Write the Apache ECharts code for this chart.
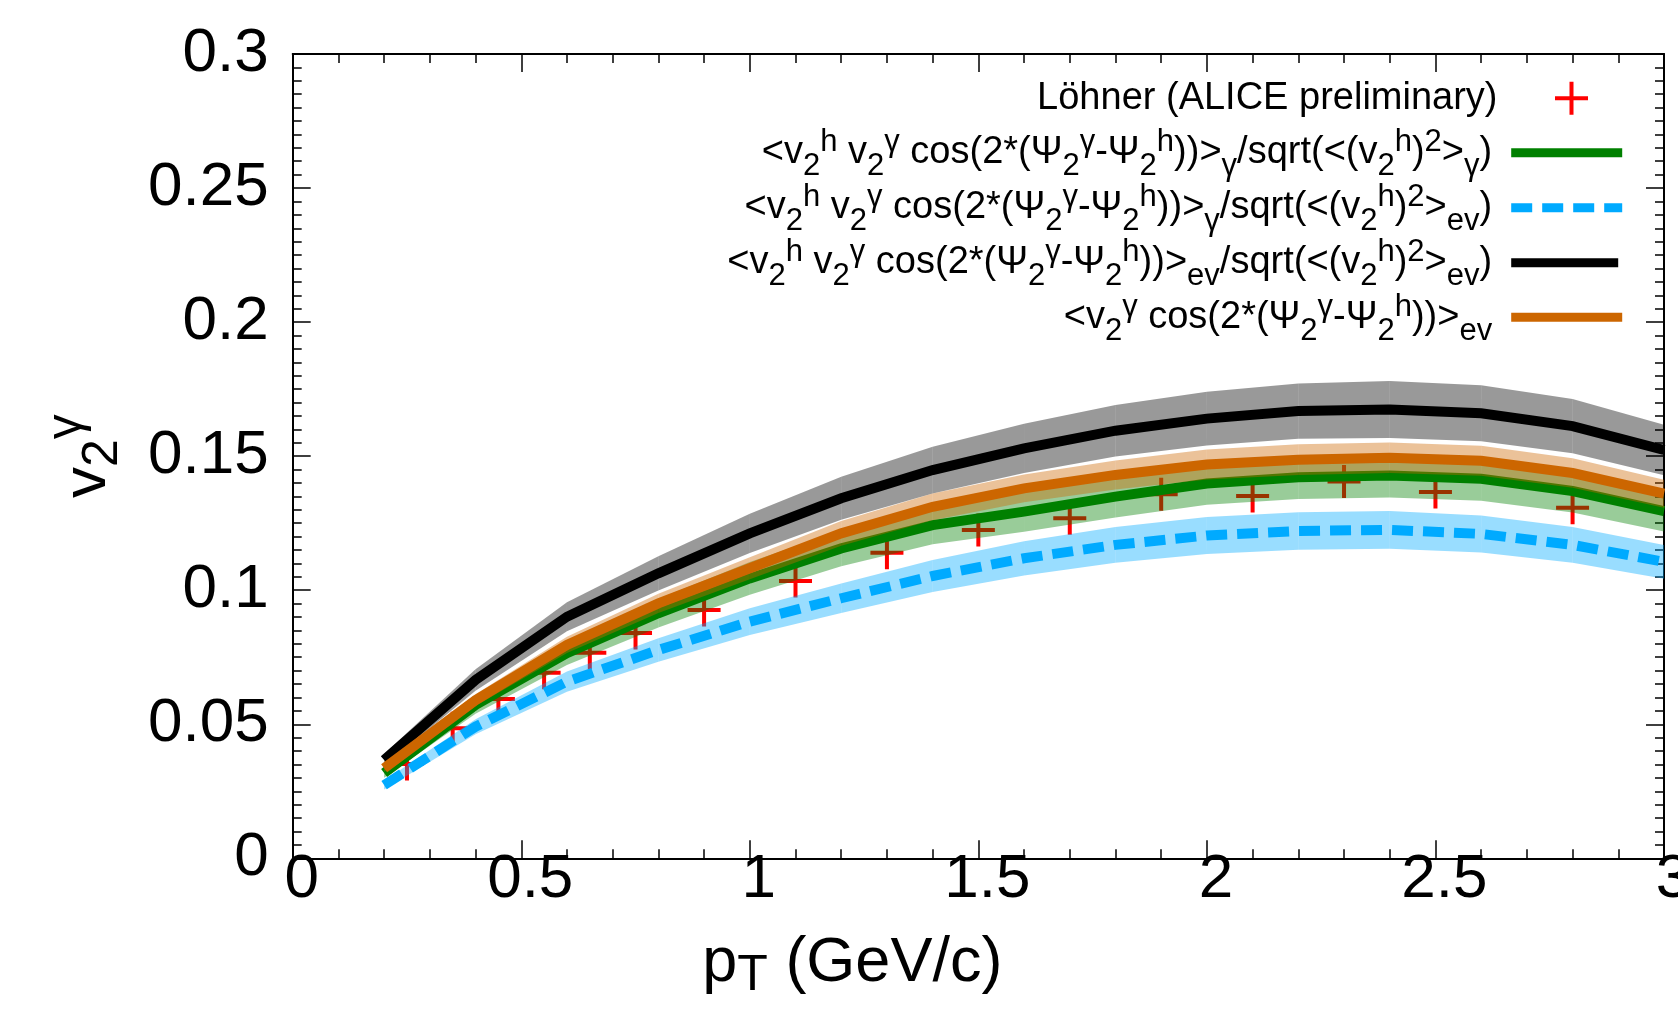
<!DOCTYPE html>
<html>
<head>
<meta charset="utf-8">
<title>v2 gamma vs pT</title>
<script src="https://cdn.jsdelivr.net/npm/echarts@6/dist/echarts.min.js"></script>
<style>
  html, body { margin: 0; padding: 0; background: #ffffff; }
  #chart { width: 1678px; height: 1015px; }
</style>
</head>
<body>
<div id="chart"></div>
<script>
const FONT = '"Liberation Sans", Arial, Helvetica, sans-serif';

// pT grid of the model calculations (GeV/c)
const ptModel = [0.2, 0.4, 0.6, 0.8, 1.0, 1.2, 1.4, 1.6, 1.8, 2.0, 2.2, 2.4, 2.6, 2.8, 3.0];

// <v2h v2g cos(2(Psi2g-Psi2h))>_g / sqrt(<(v2h)^2>_g)
const v2Green   = [0.0318, 0.0572, 0.0765, 0.0914, 0.1044, 0.1156, 0.1243, 0.1293, 0.1349, 0.1398, 0.1421, 0.1428, 0.1416, 0.1370, 0.1295];
const errGreen  = [0.0018, 0.0033, 0.0044, 0.0053, 0.0061, 0.0067, 0.0072, 0.0075, 0.0078, 0.0079, 0.0081, 0.0082, 0.0082, 0.0080, 0.0076];
// <v2h v2g cos(2(Psi2g-Psi2h))>_g / sqrt(<(v2h)^2>_ev)
const v2Blue    = [0.0273, 0.0491, 0.0659, 0.0777, 0.0883, 0.0970, 0.1053, 0.1119, 0.1169, 0.1204, 0.1221, 0.1225, 0.1210, 0.1169, 0.1106];
const errBlue   = [0.0016, 0.0028, 0.0038, 0.0044, 0.0050, 0.0055, 0.0060, 0.0064, 0.0067, 0.0069, 0.0070, 0.0070, 0.0069, 0.0067, 0.0063];
// <v2h v2g cos(2(Psi2g-Psi2h))>_ev / sqrt(<(v2h)^2>_ev)
const v2Black   = [0.0367, 0.0665, 0.0901, 0.1063, 0.1212, 0.1343, 0.1448, 0.1529, 0.1595, 0.1640, 0.1668, 0.1674, 0.1660, 0.1612, 0.1523];
const errBlack  = [0.0022, 0.0040, 0.0054, 0.0064, 0.0073, 0.0080, 0.0087, 0.0092, 0.0096, 0.0100, 0.0103, 0.0106, 0.0104, 0.0101, 0.0094];
// <v2g cos(2(Psi2g-Psi2h))>_ev
const v2Orange  = [0.0336, 0.0590, 0.0796, 0.0951, 0.1082, 0.1212, 0.1311, 0.1380, 0.1430, 0.1469, 0.1487, 0.1494, 0.1483, 0.1437, 0.1360];
const errOrange = [0.0013, 0.0022, 0.0030, 0.0036, 0.0041, 0.0046, 0.0050, 0.0052, 0.0054, 0.0056, 0.0057, 0.0057, 0.0056, 0.0055, 0.0052];

// ALICE preliminary direct-photon v2
const ptAlice = [0.25, 0.35, 0.45, 0.55, 0.65, 0.75, 0.9, 1.1, 1.3, 1.5, 1.7, 1.9, 2.1, 2.3, 2.5, 2.8];
const v2Alice = [0.0352, 0.0485, 0.0594, 0.0692, 0.0767, 0.0840, 0.0926, 0.1034, 0.1140, 0.1225, 0.1268, 0.1358, 0.1351, 0.1405, 0.1366, 0.1308];

// axis ticks
const xTicks = { min: 0, max: 3, step: 0.5, minorSplit: 5 };
const yTicks = { min: 0, max: 0.3, step: 0.05, minorSplit: 10 };

// series names and their formatted legend texts
const NAME_DATA   = 'Löhner (ALICE preliminary)';
const NAME_GREEN  = '<v2h v2γ cos(2*(Ψ2γ-Ψ2h))>γ/sqrt(<(v2h)2>γ)';
const NAME_BLUE   = '<v2h v2γ cos(2*(Ψ2γ-Ψ2h))>γ/sqrt(<(v2h)2>ev)';
const NAME_BLACK  = '<v2h v2γ cos(2*(Ψ2γ-Ψ2h))>ev/sqrt(<(v2h)2>ev)';
const NAME_ORANGE = '<v2γ cos(2*(Ψ2γ-Ψ2h))>ev';

const HEAD = '<v{sb|2}{sp|h} v{sb|2}{sp|γ} cos(2*(Ψ{sb|2}{sp|γ}-Ψ{sb|2}{sp|h}))>';
const LEGEND_TEXT = {};
LEGEND_TEXT[NAME_DATA]   = NAME_DATA;
LEGEND_TEXT[NAME_GREEN]  = HEAD + '{sb|γ}/sqrt(<(v{sb|2}{sp|h}){sp|2}>{sb|γ})';
LEGEND_TEXT[NAME_BLUE]   = HEAD + '{sb|γ}/sqrt(<(v{sb|2}{sp|h}){sp|2}>{sb|ev})';
LEGEND_TEXT[NAME_BLACK]  = HEAD + '{sb|ev}/sqrt(<(v{sb|2}{sp|h}){sp|2}>{sb|ev})';
LEGEND_TEXT[NAME_ORANGE] = '<v{sb|2}{sp|γ} cos(2*(Ψ{sb|2}{sp|γ}-Ψ{sb|2}{sp|h}))>{sb|ev}';

const COLORS = {
  data: '#ff0000',
  green: '#008000',
  blue: '#00aaff',
  black: '#000000',
  orange: '#cc6600'
};

const PLUS = 'path://M14.5,0H18.5V14.5H33V18.5H18.5V33H14.5V18.5H0V14.5H14.5Z';
const LINE_W = 10;

function zip(xs, ys) {
  return xs.map((x, i) => [x, ys[i]]);
}

// one quadrilateral per interval between neighbouring pT points
function bandSegments(xs, ys, errs) {
  const out = [];
  for (let i = 0; i < xs.length - 1; i++) {
    out.push([
      xs[i], ys[i] - errs[i], ys[i] + errs[i],
      xs[i + 1], ys[i + 1] - errs[i + 1], ys[i + 1] + errs[i + 1]
    ]);
  }
  return out;
}

function bandSeries(name, xs, ys, errs, fill, z) {
  return {
    name: name,
    type: 'custom',
    z: z,
    data: bandSegments(xs, ys, errs),
    encode: { x: [0, 3], y: [1, 2, 4, 5] },
    clip: true,
    silent: true,
    renderItem: function (params, api) {
      const a = api.coord([api.value(0), api.value(1)]);
      const b = api.coord([api.value(3), api.value(4)]);
      const c = api.coord([api.value(3), api.value(5)]);
      const d = api.coord([api.value(0), api.value(2)]);
      return {
        type: 'polygon',
        shape: { points: [a, b, c, d] },
        style: { fill: fill }
      };
    }
  };
}

function lineSeries(name, xs, ys, color, z, dash) {
  return {
    name: name,
    type: 'line',
    z: z,
    data: zip(xs, ys),
    symbol: 'none',
    clip: false,
    silent: true,
    itemStyle: { color: color },
    lineStyle: { color: color, width: LINE_W, type: dash || 'solid', cap: 'butt', join: 'miter' }
  };
}

const richSmall = {
  sp: { fontSize: 31, fontFamily: FONT, color: '#000', height: 40, verticalAlign: 'top' },
  sb: { fontSize: 31, fontFamily: FONT, color: '#000', height: 32, verticalAlign: 'bottom' }
};

function legendRow(name, centerY, iconRight, iconW, iconH, gapRight, isLine) {
  const row = {
    data: [name],
    orient: 'horizontal',
    align: 'right',
    right: iconRight,
    top: centerY - 30,
    padding: 0,
    itemWidth: iconW,
    itemHeight: iconH,
    selectedMode: false,
    formatter: function (n) { return LEGEND_TEXT[n]; },
    textStyle: {
      fontSize: 38,
      fontFamily: FONT,
      color: '#000',
      lineHeight: 60,
      padding: [0, gapRight, 0, 0],
      rich: richSmall
    }
  };
  if (isLine) {
    row.itemStyle = { opacity: 0 };
    row.lineStyle = { width: 9 };
  }
  return row;
}

const tickLine = { color: '#000', width: 1.5 };

function xAxisDef(pos, withLabels) {
  return {
    type: 'value',
    position: pos,
    min: xTicks.min,
    max: xTicks.max,
    interval: xTicks.step,
    axisLine: { show: true, onZero: false, lineStyle: { color: '#000', width: 2 } },
    axisTick: { show: true, inside: true, length: 18, lineStyle: tickLine },
    minorTick: { show: true, splitNumber: xTicks.minorSplit, length: 9, lineStyle: tickLine },
    splitLine: { show: false },
    minorSplitLine: { show: false },
    axisLabel: withLabels ? {
      show: true, fontSize: 62, fontFamily: FONT, color: '#000', margin: -9,
      padding: [0, 0, 0, 18]
    } : { show: false },
    name: withLabels ? 'p{sb|T} (GeV/c)' : '',
    nameLocation: 'middle',
    nameGap: 74,
    nameTextStyle: {
      fontSize: 63, fontFamily: FONT, color: '#000', lineHeight: 62,
      padding: [0, 252, 0, 0],
      rich: { sb: { fontSize: 50, fontFamily: FONT, color: '#000', height: 36, verticalAlign: 'bottom' } }
    }
  };
}

function yAxisDef(pos, withLabels) {
  return {
    type: 'value',
    position: pos,
    min: yTicks.min,
    max: yTicks.max,
    interval: yTicks.step,
    axisLine: { show: true, onZero: false, lineStyle: { color: '#000', width: 2 } },
    axisTick: { show: true, inside: true, length: 18, lineStyle: tickLine },
    minorTick: { show: true, splitNumber: yTicks.minorSplit, length: 9, lineStyle: tickLine },
    splitLine: { show: false },
    minorSplitLine: { show: false },
    axisLabel: withLabels ? { show: true, fontSize: 62, fontFamily: FONT, color: '#000', margin: 24 } : { show: false },
    name: withLabels ? 'v{sb|2}{sp|γ}' : '',
    nameLocation: 'middle',
    nameRotate: 90,
    nameGap: 160,
    nameTextStyle: {
      fontSize: 62, fontFamily: FONT, color: '#000', lineHeight: 90,
      rich: {
        sb: { fontSize: 50, fontFamily: FONT, color: '#000', height: 58, verticalAlign: 'bottom' },
        sp: { fontSize: 50, fontFamily: FONT, color: '#000', height: 50, verticalAlign: 'top' }
      }
    }
  };
}

const option = {
  animation: false,
  backgroundColor: '#ffffff',
  grid: {
    left: 292.7, right: 14, top: 54, bottom: 156.7,
    containLabel: false,
    outerBoundsMode: 'none'
  },
  xAxis: [xAxisDef('bottom', true), xAxisDef('top', false)],
  yAxis: [yAxisDef('left', true), yAxisDef('right', false)],
  legend: [
    legendRow(NAME_DATA,   98.3, 90,   34, 33, 52, false),
    legendRow(NAME_GREEN,  152.7, 51.3, 111, 9, 14, true),
    legendRow(NAME_BLUE,   207.7, 51.3, 111, 9, 14, true),
    legendRow(NAME_BLACK,  262.7, 55.3, 107, 9, 14, true),
    legendRow(NAME_ORANGE, 317.3, 51.3, 111, 9, 14, true)
  ],
  series: [
    {
      name: NAME_DATA,
      type: 'scatter',
      z: 1,
      data: zip(ptAlice, v2Alice),
      symbol: PLUS,
      symbolSize: [33, 33],
      silent: true,
      itemStyle: { color: COLORS.data, opacity: 1 }
    },
    bandSeries('band-green', ptModel, v2Green, errGreen, 'rgba(0,128,0,0.4)', 2),
    lineSeries(NAME_GREEN, ptModel, v2Green, COLORS.green, 3),
    bandSeries('band-blue', ptModel, v2Blue, errBlue, 'rgba(0,170,255,0.4)', 4),
    lineSeries(NAME_BLUE, ptModel, v2Blue, COLORS.blue, 5, [21, 10]),
    bandSeries('band-black', ptModel, v2Black, errBlack, 'rgba(0,0,0,0.4)', 6),
    lineSeries(NAME_BLACK, ptModel, v2Black, COLORS.black, 7),
    bandSeries('band-orange', ptModel, v2Orange, errOrange, 'rgba(204,102,0,0.4)', 8),
    lineSeries(NAME_ORANGE, ptModel, v2Orange, COLORS.orange, 9)
  ]
};

const chart = echarts.init(document.getElementById('chart'), null, { renderer: 'canvas' });
chart.setOption(option);
</script>
</body>
</html>
